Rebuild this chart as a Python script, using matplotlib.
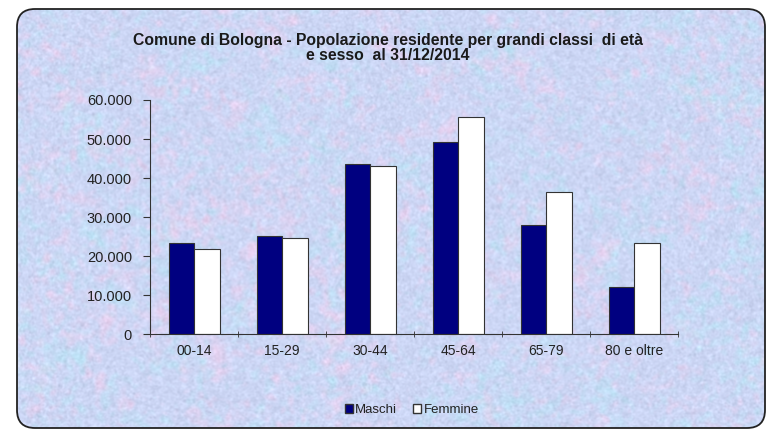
import numpy as np
import matplotlib.pyplot as plt
from matplotlib.patches import FancyBboxPatch, Patch
from matplotlib.ticker import FuncFormatter, FixedLocator

plt.rcParams['font.family'] = ['Liberation Sans', 'DejaVu Sans']

classi = ['00-14', '15-29', '30-44', '45-64', '65-79', '80 e oltre']
maschi = [23300, 25200, 43500, 49300, 27950, 12050]
femmine = [21800, 24500, 43150, 55650, 36400, 23250]

fig = plt.figure(figsize=(7.67, 4.29), dpi=100)
fig.patch.set_facecolor('white')

# sfondo "marmorizzato" a grana fine, con bordo arrotondato
rng = np.random.default_rng(7)
h, w = 420, 750
fy = np.fft.fftfreq(h)[:, None]
fx = np.fft.fftfreq(w)[None, :]
def blob(scale):
    n = rng.normal(size=(h, w))
    g = np.exp(-(fx**2 + fy**2) * scale)
    out = np.real(np.fft.ifft2(np.fft.fft2(n) * g))
    return (out - out.mean()) / out.std()
t_pink = 0.6 * blob(150) + 0.4 * blob(2500)
t_cyan = 0.6 * blob(150) + 0.4 * blob(2500)
t_fine = blob(15)
base = np.array([0.80, 0.84, 0.96])
pink = np.array([0.90, 0.82, 0.94])
cyan = np.array([0.74, 0.88, 0.96])
img = base[None, None, :] * np.ones((h, w, 3))
img = img + (pink - base) * np.clip(t_pink * 0.45, 0, 1)[..., None]
img = img + (cyan - base) * np.clip(t_cyan * 0.45, 0, 1)[..., None]
img = img + t_fine[..., None] * 0.018
img = np.clip(img, 0, 1)

bg_ax = fig.add_axes([0, 0, 1, 1], zorder=-1)
bg_ax.set_xlim(0, 767)
bg_ax.set_ylim(429, 0)
bg_ax.axis('off')
frame = FancyBboxPatch((17, 9), 748, 419, boxstyle='round,pad=0,rounding_size=18',
                       facecolor='none', edgecolor='#222222', linewidth=1.3)
bg_ax.add_patch(frame)
im = bg_ax.imshow(img, extent=(17, 765, 428, 9), aspect='auto', interpolation='bilinear')
im.set_clip_path(frame)

fig.text(0.506, 0.888, 'Comune di Bologna - Popolazione residente per grandi classi  di età\ne sesso  al 31/12/2014',
         ha='center', va='center', fontsize=11.3, fontweight='bold', linespacing=0.95, color='#1a1a1a')

ax = fig.add_axes([0.1956, 0.2214, 0.6884, 0.5455])
ax.patch.set_alpha(0)
x = np.arange(len(classi))
bw = 0.29
ax.bar(x - bw / 2, maschi, bw, color='#000080', edgecolor='#333333', linewidth=0.8, label='Maschi')
ax.bar(x + bw / 2, femmine, bw, color='white', edgecolor='#333333', linewidth=0.8, label='Femmine')

ax.set_xlim(-0.5, len(classi) - 0.5)
ax.set_ylim(0, 60000)
ax.set_yticks(np.arange(0, 60001, 10000))
ax.yaxis.set_major_formatter(FuncFormatter(lambda v, p: f'{int(v):,}'.replace(',', '.')))
ax.set_xticks(x)
ax.set_xticklabels(classi)
ax.xaxis.set_minor_locator(FixedLocator(np.arange(-0.5, len(classi), 1)))
ax.tick_params(axis='x', which='major', length=0, pad=7, labelsize=10, labelcolor='#222222')
ax.tick_params(axis='x', which='minor', length=5, direction='inout', color='#333333')
ax.tick_params(axis='y', length=5, direction='out', color='#333333', labelsize=10.5, pad=8,
               labelcolor='#222222')
for s in ['top', 'right']:
    ax.spines[s].set_visible(False)
for s in ['left', 'bottom']:
    ax.spines[s].set_color('#333333')

handles = [Patch(facecolor='#000080', edgecolor='#333333', label='Maschi'),
           Patch(facecolor='white', edgecolor='#333333', label='Femmine')]
fig.legend(handles=handles, loc='center', bbox_to_anchor=(0.537, 0.044), ncol=2, frameon=False,
           fontsize=9.5, handlelength=0.6, handleheight=0.6, handletextpad=0.2, columnspacing=1.2,
           labelcolor='#222222')

fig.savefig('out.png', dpi=100)
